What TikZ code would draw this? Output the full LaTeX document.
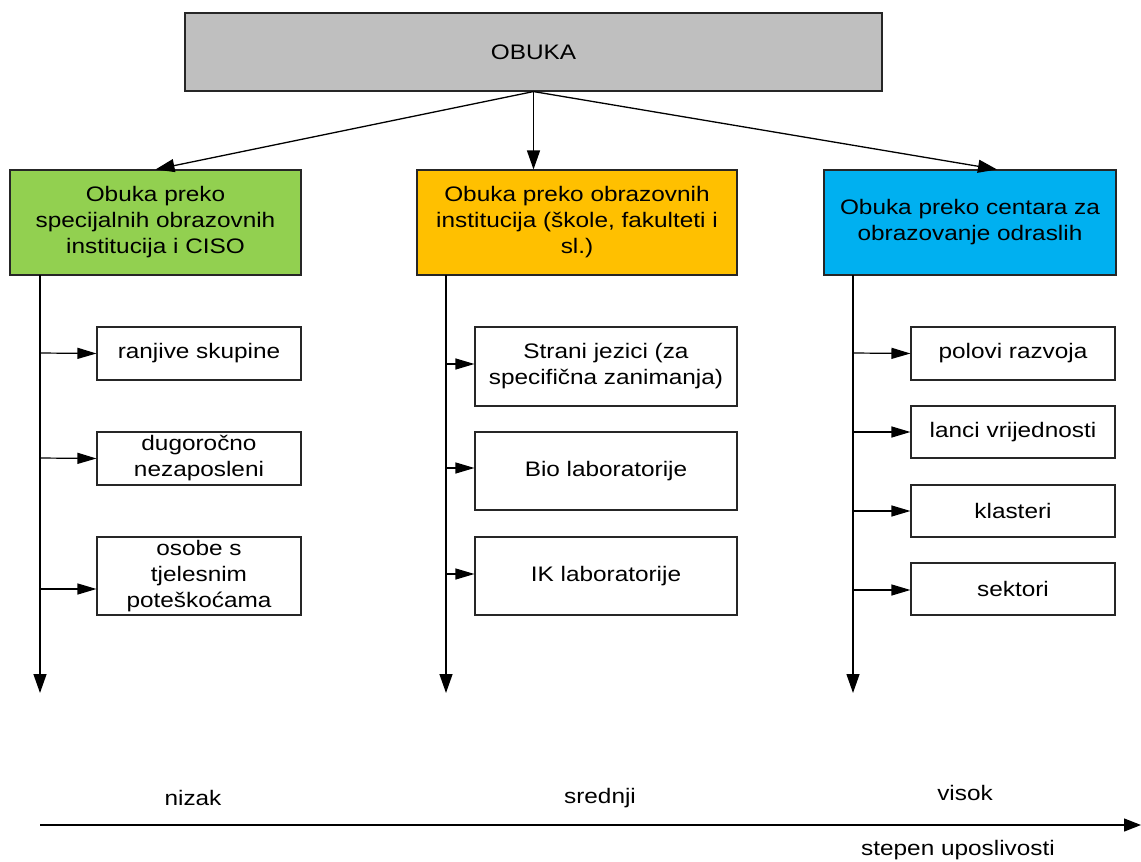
\documentclass[tikz,border=0pt]{standalone}
\usepackage{fontspec}
\setmainfont[FakeStretch=1.16]{Liberation Sans}
\usetikzlibrary{arrows.meta,calc}
\begin{document}
\begin{tikzpicture}[x=1pt,y=-1pt,
  every node/.style={font=\fontsize{21}{26}\selectfont},
  box/.style={draw=black!85,line width=1.1pt,inner sep=0pt,align=center},
  link/.style={line width=1.3pt,-{Triangle[length=19pt,width=13pt]}},
  sub/.style={line width=1.2pt,-{Triangle[length=19pt,width=11pt]}},
  lbl/.style={inner sep=0pt}]
\useasboundingbox (0,0) rectangle (1141,862);

% top box
\node[box,fill=black!25,minimum width=697pt,minimum height=78pt] (obuka) at (533.5,52) {OBUKA};

% three categories
\node[box,fill={rgb,255:red,146;green,208;blue,80},minimum width=291pt,minimum height=105pt] (spec) at (155.5,222.5)
  {Obuka preko\\specijalnih obrazovnih\\institucija i CISO};
\node[box,fill={rgb,255:red,255;green,192;blue,0},minimum width=320pt,minimum height=105pt] (obr) at (577,222.5)
  {Obuka preko obrazovnih\\institucija (škole, fakulteti i\\sl.)};
\node[box,fill={rgb,255:red,0;green,176;blue,240},minimum width=292pt,minimum height=105pt] (cent) at (970,222.5)
  {Obuka preko centara za\\obrazovanje odraslih};

\draw[link] (obuka.south) -- (spec.north);
\draw[link] (obuka.south) -- (obuka.south |- obr.north);
\draw[link] (obuka.south) -- ($(cent.north)+(27,0)$);

% left column
\node[box,minimum width=204pt,minimum height=53pt] (s1) at (199,353.5) {ranjive skupine};
\node[box,minimum width=204pt,minimum height=53pt] (s2) at (199,458.5) {dugoročno\\nezaposleni};
\node[box,minimum width=204pt,minimum height=78pt] (s3) at (199,576) {osobe s\\tjelesnim\\poteškoćama};

% middle column
\node[box,minimum width=262pt,minimum height=79pt] (o1) at (606,366.5) {Strani jezici (za\\specifična zanimanja)};
\node[box,minimum width=262pt,minimum height=78pt] (o2) at (606,471) {Bio laboratorije};
\node[box,minimum width=262pt,minimum height=78pt] (o3) at (606,576) {IK laboratorije};

% right column
\node[box,minimum width=204pt,minimum height=53pt] (c1) at (1013,353.5) {polovi razvoja};
\node[box,minimum width=204pt,minimum height=52pt] (c2) at (1013,432) {lanci vrijednosti};
\node[box,minimum width=204pt,minimum height=52pt] (c3) at (1013,511) {klasteri};
\node[box,minimum width=204pt,minimum height=52pt] (c4) at (1013,589) {sektori};

% trunks
\coordinate (ta) at (40,275);   \coordinate (tae) at (40,693);
\coordinate (tb) at (446,275);  \coordinate (tbe) at (446,693);
\coordinate (tc) at (853,275);  \coordinate (tce) at (853,693);
\draw[link] (ta) -- (tae);
\draw[link] (tb) -- (tbe);
\draw[link] (tc) -- (tce);

\draw[sub] (40,353) -- (s1.west);
\draw[sub] (40,458) -- (s2.west);
\draw[sub] (40,589) -- (s3.west |- 0,589);
\draw[sub] (446,364) -- (o1.west |- 0,364);
\draw[sub] (446,468) -- (o2.west |- 0,468);
\draw[sub] (446,574) -- (o3.west |- 0,574);
\draw[sub] (853,353) -- (c1.west);
\draw[sub] (853,432) -- (c2.west);
\draw[sub] (853,511) -- (c3.west);
\draw[sub] (853,590) -- (c4.west |- 0,590);

% axis of employability
\coordinate (ax0) at (40,825);
\coordinate (ax1) at (1141,825);
\draw[line width=1.3pt,-{Triangle[length=17pt,width=13pt]}] (ax0) -- (ax1);
\node[lbl] (niz) at (193,798) {nizak};
\node[lbl] (sred) at (600,798) {srednji};
\node[lbl] (vis) at (965,793) {visok};
\node[lbl] (step) at (958,850) {stepen uposlivosti};
\end{tikzpicture}
\end{document}
